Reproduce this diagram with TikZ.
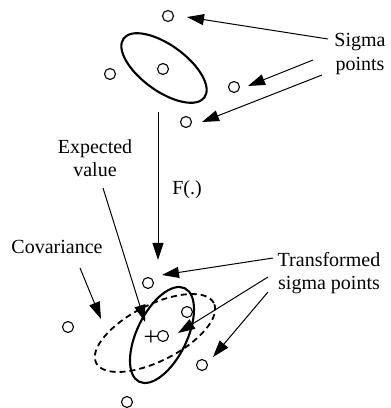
\documentclass[tikz,border=0pt]{standalone}
\usepackage{fontspec}
\setmainfont{Liberation Serif}
\usetikzlibrary{arrows.meta}
\begin{document}
\begin{tikzpicture}[x=1pt,y=1pt,
  sp/.style={circle,draw,line width=1.1pt,minimum size=11pt,inner sep=0pt},
  lbl/.style={align=center,font=\fontsize{20}{23.5}\selectfont},
  arr/.style={line width=1pt,-{Triangle[length=17pt,width=11pt]}},
  ell/.style={line width=2.1pt}]
\useasboundingbox (0,0) rectangle (391,408);
% top sigma points
\node[sp] (s1) at (168,392) {};
\node[sp] (s0) at (163,339) {};
\node[sp] (s2) at (110,334) {};
\node[sp] (s3) at (234,321) {};
\node[sp] (s4) at (186,286) {};
\draw[ell] (164,340) ellipse [x radius=50, y radius=23, rotate=-36];
% bottom transformed points
\node[sp] (t1) at (148,125) {};
\node[sp] (t2) at (68,81) {};
\node[sp] (t3) at (187,96) {};
\node[sp] (t0) at (163,72) {};
\node[inner sep=0pt,font=\fontsize{26}{26}\selectfont] (pl) at (151,70) {+};
\node[sp] (t4) at (202,43) {};
\node[sp] (t5) at (127,6) {};
\draw[ell] (162,73) ellipse [x radius=52, y radius=25, rotate=64];
\draw[ell,line width=1.8pt,dash pattern=on 6pt off 4pt] (155,75) ellipse [x radius=66, y radius=28, rotate=27];
% labels
\node[lbl] (sig) at (360,354) {Sigma\\points};
\node[lbl] (exp) at (95,250) {Expected\\value};
\node[lbl] (f) at (187,218) {F(.)};
\node[lbl] (cov) at (57,161) {Covariance};
\node[lbl] (tr) at (329,135) {Transformed\\sigma points};
% coordinates
\coordinate (a1s) at (328,369); \coordinate (a1e) at (187,391);
\coordinate (a2s) at (313,348); \coordinate (a2e) at (248,322);
\coordinate (a3s) at (322,333); \coordinate (a3e) at (202,286);
\coordinate (vs) at (158,296); \coordinate (ve) at (158,148);
\coordinate (es) at (103,220); \coordinate (ee) at (145,86);
\coordinate (cs) at (80,140); \coordinate (ce) at (101,89);
\coordinate (b1s) at (273,150); \coordinate (b1e) at (162,133);
\coordinate (b2s) at (268,131); \coordinate (b2e) at (178,75);
\coordinate (b3s) at (268,116); \coordinate (b3e) at (213,51);
\draw[arr] (a1s) -- (a1e);
\draw[arr] (a2s) -- (a2e);
\draw[arr] (a3s) -- (a3e);
\draw[arr] (vs) -- (ve);
\draw[arr] (es) -- (ee);
\draw[arr] (cs) -- (ce);
\draw[arr] (b1s) -- (b1e);
\draw[arr] (b2s) -- (b2e);
\draw[arr] (b3s) -- (b3e);
\end{tikzpicture}
\end{document}
